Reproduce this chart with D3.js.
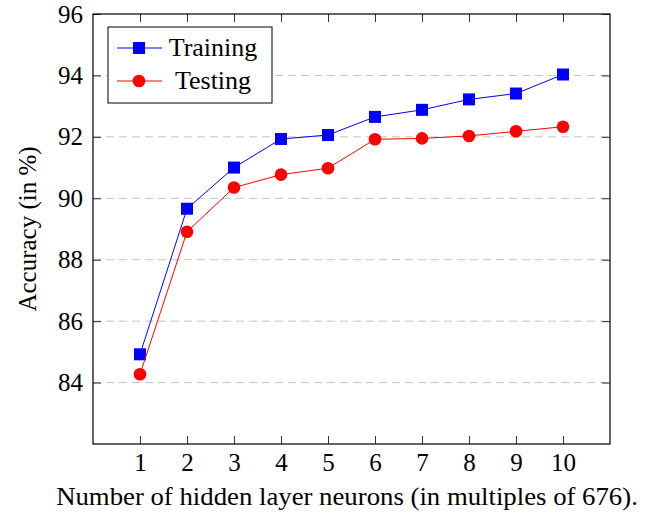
<!DOCTYPE html>
<html>
<head>
<meta charset="utf-8">
<script src="https://cdn.jsdelivr.net/npm/d3@7"></script>
<style>
  body { margin: 0; background: #fff; }
  svg text { font-family: "Liberation Serif", "DejaVu Serif", serif; fill: #000; }
</style>
</head>
<body>
<div id="chart"></div>
<script>
// Data
const neurons = [1, 2, 3, 4, 5, 6, 7, 8, 9, 10];
const training = [84.92, 89.66, 91.0, 91.93, 92.06, 92.65, 92.88, 93.22, 93.41, 94.03];
const testing = [84.27, 88.91, 90.35, 90.77, 90.98, 91.92, 91.95, 92.03, 92.18, 92.33];
const yTicks = [84, 86, 88, 90, 92, 94, 96];

const seriesList = [
    { name: 'Training', values: training, color: '#0000ff', marker: 'square' },
    { name: 'Testing', values: testing, color: '#ff0000', marker: 'circle' }
];

// Dimensions
const W = 670, H = 517;
const margin = { top: 14, right: 60, bottom: 73, left: 93 };
const width = W - margin.left - margin.right;
const height = H - margin.top - margin.bottom;
const tickLen = 8;
const tickFont = '25px';

// widen text a bit to match the reference glyph widths
function stretch(sel, k) {
    sel.each(function () {
        const len = this.getComputedTextLength();
        d3.select(this)
            .attr('textLength', len * k)
            .attr('lengthAdjust', 'spacingAndGlyphs');
    });
}

const xScale = d3.scaleLinear().domain([0, 11]).range([0, width]);
const yScale = d3.scaleLinear().domain([82, 96]).range([height, 0]);

const svg = d3.select('#chart')
    .append('svg')
    .attr('width', W)
    .attr('height', H)
    .append('g')
    .attr('transform', `translate(${margin.left},${margin.top})`);

// Dashed grid lines
svg.append('g')
    .selectAll('line')
    .data(yTicks.filter(t => t < 96))
    .enter()
    .append('line')
    .attr('x1', 0)
    .attr('x2', width)
    .attr('y1', d => yScale(d))
    .attr('y2', d => yScale(d))
    .attr('stroke', '#c4c4c4')
    .attr('stroke-width', 1)
    .attr('stroke-dasharray', '8,5');

// Axes (inward ticks on all four sides)
const xAxis = svg.append('g')
    .attr('transform', `translate(0,${height})`)
    .call(d3.axisBottom(xScale).tickValues(neurons).tickSize(-tickLen).tickPadding(9).tickSizeOuter(0));
xAxis.selectAll('text').style('font-size', tickFont);

svg.append('g')
    .call(d3.axisTop(xScale).tickValues(neurons).tickSize(-tickLen).tickFormat('').tickSizeOuter(0));

const yAxis = svg.append('g')
    .call(d3.axisLeft(yScale).tickValues(yTicks).tickSize(-tickLen).tickPadding(10).tickSizeOuter(0));
yAxis.selectAll('text').style('font-size', tickFont);

svg.append('g')
    .attr('transform', `translate(${width},0)`)
    .call(d3.axisRight(yScale).tickValues(yTicks).tickSize(-tickLen).tickFormat('').tickSizeOuter(0));

svg.selectAll('.domain').remove();
svg.selectAll('.tick line').attr('stroke', '#000').attr('stroke-width', 0.8);

// Frame
svg.append('rect')
    .attr('width', width)
    .attr('height', height)
    .attr('fill', 'none')
    .attr('stroke', '#000')
    .attr('stroke-width', 1.2);

// Lines and markers
const line = d3.line()
    .x((d, i) => xScale(neurons[i]))
    .y(d => yScale(d));

function drawMarker(g, type, color) {
    if (type === 'square') {
        g.append('rect')
            .attr('x', -6).attr('y', -6)
            .attr('width', 12).attr('height', 12)
            .attr('fill', color);
    } else {
        g.append('circle')
            .attr('r', 6.3)
            .attr('fill', color);
    }
}

seriesList.forEach(s => {
    svg.append('path')
        .datum(s.values)
        .attr('fill', 'none')
        .attr('stroke', s.color)
        .attr('stroke-width', 1)
        .attr('d', line);

    s.values.forEach((v, i) => {
        const m = svg.append('g')
            .attr('transform', `translate(${xScale(neurons[i])},${yScale(v)})`);
        drawMarker(m, s.marker, s.color);
    });
});

// Legend
const legend = svg.append('g')
    .attr('transform', `translate(${108 - margin.left},${27 - margin.top})`);

legend.append('rect')
    .attr('width', 164)
    .attr('height', 76)
    .attr('fill', '#fff')
    .attr('stroke', '#000')
    .attr('stroke-width', 1);

seriesList.forEach((s, i) => {
    const row = legend.append('g')
        .attr('transform', `translate(0,${21 + i * 33})`);
    row.append('line')
        .attr('x1', 9).attr('x2', 54)
        .attr('stroke', s.color)
        .attr('stroke-width', 1);
    const m = row.append('g').attr('transform', 'translate(31,0)');
    drawMarker(m, s.marker, s.color);
    row.append('text')
        .attr('x', 105)
        .attr('y', 8)
        .attr('text-anchor', 'middle')
        .style('font-size', '26px')
        .text(s.name);
});

// Axis titles
svg.append('text')
    .attr('x', 347 - margin.left)
    .attr('y', 505 - margin.top)
    .attr('text-anchor', 'middle')
    .style('font-size', '25px')
    .text('Number of hidden layer neurons (in multiples of 676).')
    .call(stretch, 1.07);

svg.append('text')
    .attr('transform', `translate(${27 - margin.left},${height / 2}) rotate(-90)`)
    .attr('dy', '0.35em')
    .attr('text-anchor', 'middle')
    .style('font-size', '25px')
    .text('Accuracy (in %)');
</script>
</body>
</html>
